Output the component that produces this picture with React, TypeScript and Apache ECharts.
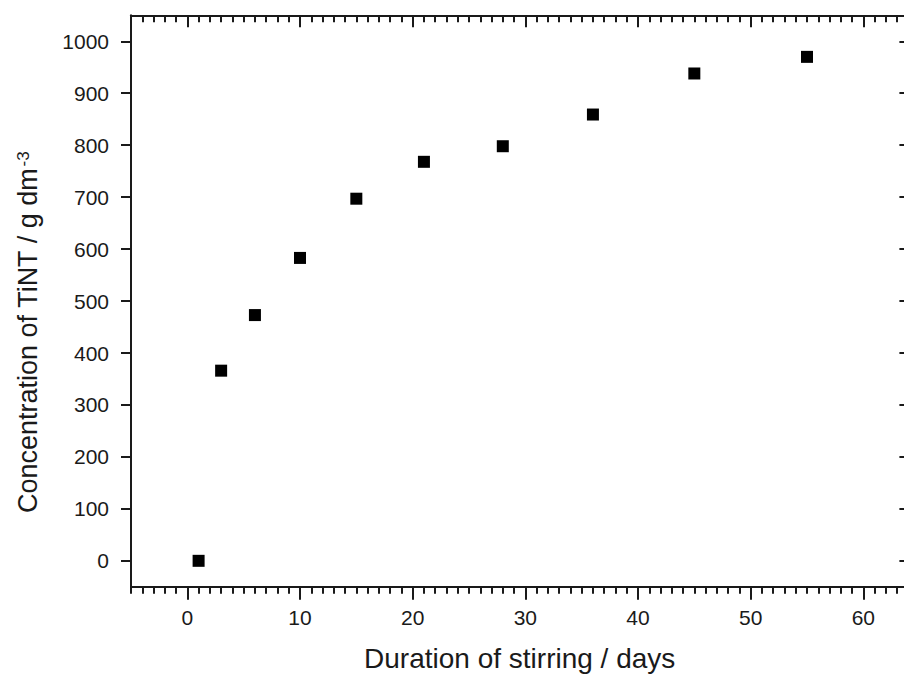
import React, { useEffect, useRef } from "react";
import * as echarts from "echarts";

const days = [1, 3, 6, 10, 15, 21, 28, 36, 45, 55];
const concentration = [0, 366, 473, 583, 697, 768, 798, 859, 938, 970];
const xTickValues = [0, 10, 20, 30, 40, 50, 60];
const yTickValues = [0, 100, 200, 300, 400, 500, 600, 700, 800, 900, 1000];
const xTitle = "Duration of stirring / days";
const yTitleMain = "Concentration of TiNT / g dm";
const yTitleSup = "-3";

const FONT = "'Liberation Sans', Arial, sans-serif";
const INK = "#1a1a1a";
const X_MIN = -5;
const X_MAX = 64;
const Y_MIN = -50;
const Y_MAX = 1050;

export default function App() {
  const ref = useRef<HTMLDivElement>(null);
  useEffect(() => {
    if (!ref.current) return;
    const chart = echarts.init(ref.current, undefined, { renderer: "svg" });
    const line = { color: INK, width: 2 };
    const baseX = { type: "value", min: X_MIN, max: X_MAX, splitLine: { show: false } };
    const baseY = { type: "value", min: Y_MIN, max: Y_MAX, splitLine: { show: false } };
    const plain = (v: number) => String(v);
    chart.setOption({
      animation: false,
      backgroundColor: "#ffffff",
      grid: {
        left: 131,
        top: 15.3,
        width: 777.4,
        height: 571.5,
        outerBoundsMode: "none",
        containLabel: false,
      },
      xAxis: [
        {
          ...baseX,
          position: "bottom",
          axisLine: { show: true, onZero: false, lineStyle: line },
          axisTick: { show: true, length: 13, inside: false, customValues: xTickValues, lineStyle: line },
          axisLabel: {
            show: true,
            customValues: xTickValues,
            formatter: plain,
            margin: 20,
            fontSize: 21,
            fontFamily: FONT,
            color: INK,
          },
          name: xTitle,
          nameLocation: "middle",
          nameGap: 58,
          nameTextStyle: { fontSize: 28, fontFamily: FONT, color: INK },
        },
        {
          ...baseX,
          position: "bottom",
          interval: 1,
          axisLine: { show: false, onZero: false },
          axisTick: { show: true, length: 7, inside: false, lineStyle: line },
          axisLabel: { show: false },
        },
        {
          ...baseX,
          position: "top",
          axisLine: { show: true, onZero: false, lineStyle: line },
          axisTick: { show: true, length: 12, inside: true, customValues: xTickValues, lineStyle: line },
          axisLabel: { show: false },
        },
        {
          ...baseX,
          position: "top",
          interval: 1,
          axisLine: { show: false, onZero: false },
          axisTick: { show: true, length: 7, inside: true, lineStyle: line },
          axisLabel: { show: false },
        },
      ],
      yAxis: [
        {
          ...baseY,
          position: "left",
          axisLine: { show: true, onZero: false, lineStyle: line },
          axisTick: { show: true, length: 10, inside: false, customValues: yTickValues, lineStyle: line },
          axisLabel: {
            show: true,
            customValues: yTickValues,
            formatter: plain,
            margin: 22,
            fontSize: 21,
            fontFamily: FONT,
            color: INK,
          },
        },
        {
          ...baseY,
          position: "right",
          axisLine: { show: true, onZero: false, lineStyle: line },
          axisTick: { show: true, length: 9, inside: true, customValues: yTickValues, lineStyle: line },
          axisLabel: { show: false },
        },
      ],
      graphic: [
        {
          type: "text",
          x: 28,
          y: 513,
          rotation: Math.PI / 2,
          style: {
            text: `{m|${yTitleMain}}{s|${yTitleSup}}`,
            textAlign: "left",
            textVerticalAlign: "middle",
            rich: {
              m: { fontSize: 27, fontFamily: FONT, fill: INK, verticalAlign: "bottom" },
              s: { fontSize: 17, fontFamily: FONT, fill: INK, verticalAlign: "top", padding: [0, 0, 0, 1] },
            },
          },
        },
      ],
      series: [
        {
          type: "scatter",
          xAxisIndex: 0,
          yAxisIndex: 0,
          symbol: "rect",
          symbolSize: 12,
          itemStyle: { color: "#000000", opacity: 1 },
          data: days.map((d, i) => [d, concentration[i]]),
        },
      ],
    });
    return () => chart.dispose();
  }, []);
  return (
    <div
      ref={ref}
      style={{ position: "fixed", left: 0, top: 0, width: 920, height: 675, background: "#fff" }}
    />
  );
}
